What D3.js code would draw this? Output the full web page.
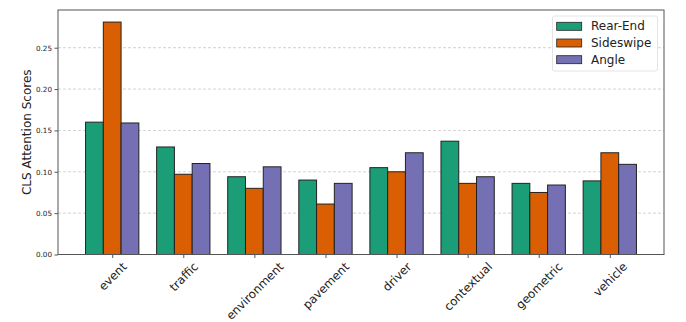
<!DOCTYPE html>
<html><head><meta charset="utf-8">
<script src="https://cdn.jsdelivr.net/npm/d3@7"></script>
<style>html,body{margin:0;padding:0;background:#fff;}svg{display:block;} svg text{font-family:"DejaVu Sans",Verdana,sans-serif;}</style>
</head><body><svg id="c" width="686" height="322"></svg>
<script>
const categories = ["event","traffic","environment","pavement","driver","contextual","geometric","vehicle"];
const seriesNames = ["Rear-End","Sideswipe","Angle"];
const rearEnd   = [0.160,0.130,0.094,0.090,0.105,0.137,0.086,0.089];
const sideswipe = [0.281,0.097,0.080,0.061,0.100,0.086,0.075,0.123];
const angle     = [0.159,0.110,0.106,0.086,0.123,0.094,0.084,0.109];
const yTicks = [0.00,0.05,0.10,0.15,0.20,0.25];
const colors = ["#1b9e77","#d95f02","#7570b3"];
const seriesValues = [rearEnd, sideswipe, angle];
const FONT = "DejaVu Sans";

const svg = d3.select("#c");
const L = 58, R = 664, T = 10, B = 254.5;
const barW = 0.25;
const x = d3.scaleLinear().domain([-0.7625, categories.length - 1 + 0.7625]).range([L, R]);
const y = d3.scaleLinear().domain([0, 0.2956]).range([B, T]);

// grid
svg.append("g").selectAll("line").data(yTicks).join("line")
  .attr("x1", L).attr("x2", R).attr("y1", d => y(d)).attr("y2", d => y(d))
  .attr("stroke", "#b0b0b0").attr("stroke-width", 0.8).attr("stroke-dasharray", "3,2").attr("opacity", 0.7);

// bars
seriesValues.forEach((vals, s) => {
  svg.append("g").selectAll("rect").data(vals).join("rect")
    .attr("x", (d, i) => x(i + (s - 1) * barW - barW / 2))
    .attr("width", x(barW) - x(0))
    .attr("y", d => y(d))
    .attr("height", d => y(0) - y(d))
    .attr("fill", colors[s])
    .attr("stroke", "#222").attr("stroke-width", 1);
});

// axes
const yAxis = d3.axisLeft(y).tickValues(yTicks).tickFormat(d3.format(".2f")).tickSize(3.5).tickPadding(2.5);
const gy = svg.append("g").attr("transform", `translate(${L},0)`).call(yAxis);
gy.attr("font-family", FONT);
gy.select(".domain").remove();
gy.selectAll("text").attr("font-size", 7.2).attr("fill", "#222").attr("font-family", FONT);
gy.selectAll("line").attr("stroke", "#555");

const xAxis = d3.axisBottom(x).tickValues(d3.range(categories.length)).tickFormat(i => categories[i]).tickSize(3.5);
const gx = svg.append("g").attr("transform", `translate(0,${B})`).call(xAxis);
gx.attr("font-family", FONT);
gx.select(".domain").remove();
gx.selectAll("line").attr("stroke", "#555");
gx.selectAll("text").each(function(d) {
  const t = d3.select(this);
  t.attr("font-size", 11.8).attr("fill", "#222").attr("font-family", FONT)
   .attr("y", 0).attr("dy", null).attr("text-anchor", "middle").attr("dominant-baseline", "central");
  const w = this.getComputedTextLength();
  const h = 8.8;
  const off = 7 + (w + h) * 0.7071 / 2;
  t.attr("transform", `translate(0,${off}) rotate(-45)`);
});

// frame
svg.append("rect").attr("x", L).attr("y", T).attr("width", R - L).attr("height", B - T)
  .attr("fill", "none").attr("stroke", "#555").attr("stroke-width", 1);

// y label
svg.append("text").attr("transform", `translate(27,${(T + B) / 2}) rotate(-90)`)
  .attr("text-anchor", "middle").attr("dominant-baseline", "central").attr("font-family", FONT)
  .attr("font-size", 12).attr("fill", "#222").text("CLS Attention Scores");

// legend
const lg = svg.append("g");
lg.append("rect").attr("x", 552.5).attr("y", 16).attr("width", 105).attr("height", 55)
  .attr("rx", 2).attr("fill", "#fff").attr("fill-opacity", 0.85).attr("stroke", "#ddd").attr("stroke-width", 0.8);
seriesNames.forEach((n, s) => {
  const cy = 26.3 + s * 16.7;
  lg.append("rect").attr("x", 556.7).attr("y", cy - 4).attr("width", 25).attr("height", 8)
    .attr("fill", colors[s]).attr("stroke", "#222").attr("stroke-width", 0.8);
  lg.append("text").attr("x", 591).attr("y", cy).attr("dominant-baseline", "central").attr("font-family", FONT)
    .attr("font-size", 12).attr("fill", "#222").text(n);
});
</script></body></html>
